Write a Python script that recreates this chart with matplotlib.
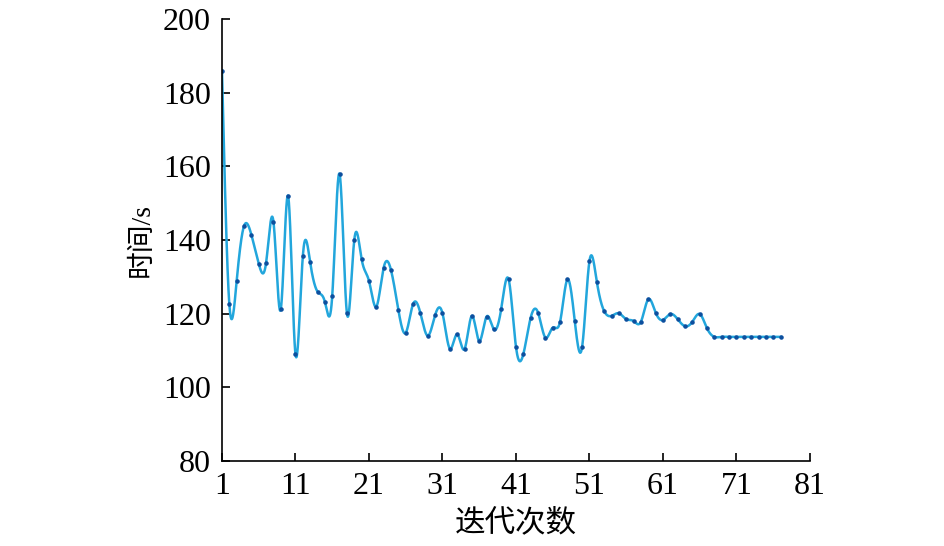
import numpy as np
import matplotlib
matplotlib.use("Agg")
import matplotlib.pyplot as plt

plt.rcParams['font.family'] = ['Liberation Serif', 'Noto Sans CJK SC']

# 迭代次数 / 时间(s)
iterations = np.arange(1, 78)
times = [186.0, 122.6, 128.9, 143.8, 141.4, 133.6, 133.8, 145.0, 121.2, 151.9,
         109.0, 135.6, 133.9, 126.0, 123.2, 124.8, 157.9, 120.1, 140.0, 134.8,
         128.9, 121.9, 132.5, 131.8, 121.0, 114.8, 122.6, 120.1, 114.0, 119.6,
         120.1, 110.5, 114.4, 110.4, 119.4, 112.6, 119.2, 115.7, 121.4, 129.3,
         111.0, 109.0, 118.9, 120.3, 113.5, 116.2, 117.8, 129.3, 118.0, 111.0,
         134.3, 128.7, 120.7, 119.4, 120.1, 118.5, 118.0, 117.8, 123.9, 120.3,
         118.3, 119.9, 118.5, 116.6, 117.8, 119.9, 116.0, 113.7, 113.7, 113.7,
         113.7, 113.7, 113.7, 113.7, 113.7, 113.7, 113.7]
xticks = [1, 11, 21, 31, 41, 51, 61, 71, 81]
yticks = [80, 100, 120, 140, 160, 180, 200]


def natural_spline(x, y, xs):
    x = np.asarray(x, float)
    y = np.asarray(y, float)
    n = len(x)
    h = np.diff(x)
    A = np.zeros((n, n))
    b = np.zeros(n)
    A[0, 0] = 1
    A[-1, -1] = 1
    for i in range(1, n - 1):
        A[i, i - 1] = h[i - 1]
        A[i, i] = 2 * (h[i - 1] + h[i])
        A[i, i + 1] = h[i]
        b[i] = 3 * ((y[i + 1] - y[i]) / h[i] - (y[i] - y[i - 1]) / h[i - 1])
    c = np.linalg.solve(A, b)
    k = np.clip(np.searchsorted(x, xs) - 1, 0, n - 2)
    d = (c[k + 1] - c[k]) / (3 * h[k])
    bb = (y[k + 1] - y[k]) / h[k] - h[k] * (2 * c[k] + c[k + 1]) / 3
    t = xs - x[k]
    return y[k] + bb * t + c[k] * t ** 2 + d * t ** 3


xs = np.linspace(1, 77, 3000)
ys = natural_spline(iterations, times, xs)

fig = plt.figure(figsize=(9.45, 5.46), dpi=100)
ax = fig.add_axes([0.2349, 0.1557, 0.6222, 0.8095])
ax.plot(xs, ys, color='#22a6dc', lw=1.8)
ax.plot(iterations, times, ls='none', marker='.', ms=4.5, color='#0d4f9e')

ax.set_xlim(1, 81)
ax.set_ylim(80, 200)
ax.set_xticks(xticks)
ax.set_yticks(yticks)
ax.spines['top'].set_visible(False)
ax.spines['right'].set_visible(False)
ax.spines['left'].set_linewidth(1.2)
ax.spines['bottom'].set_linewidth(1.2)
ax.tick_params(direction='in', length=6, width=1.2, labelsize=23, pad=8)
ax.set_xlabel('迭代次数', fontsize=22, labelpad=6)
ax.set_ylabel('时间/s', fontsize=20, labelpad=6)

fig.savefig('out.png', dpi=100)
